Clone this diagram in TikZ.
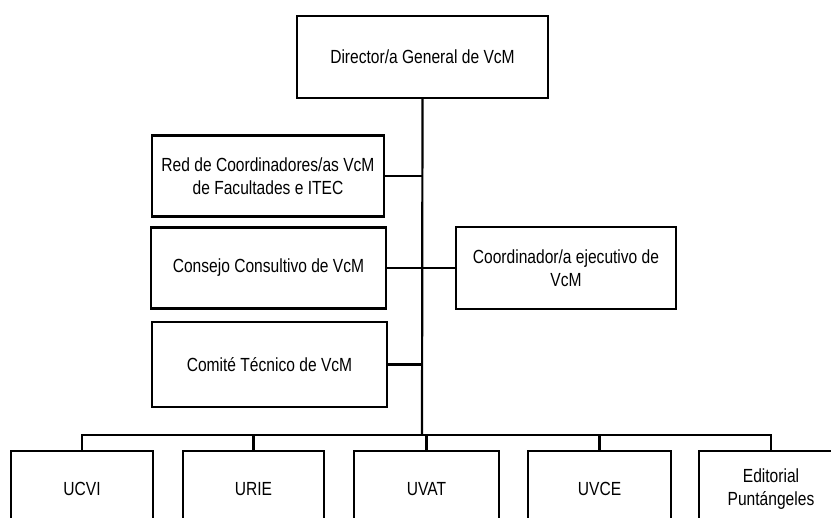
\documentclass[tikz,border=0pt]{standalone}
\usepackage{fontspec}
\setmainfont{Liberation Sans}[FakeStretch=0.82]
\begin{document}
\begin{tikzpicture}[line width=2.2pt,x=1pt,y=-1pt,
	box/.style={draw,align=center,inner sep=2pt,font=\fontsize{19}{23}\selectfont}]
\useasboundingbox (0,0) rectangle (831,518);
\clip (0,0) rectangle (831,518);
\node[box,minimum width=251,minimum height=82] (D) at (422.5,57) {Director/a General de VcM};
\node[box,minimum width=232,minimum height=81] (R) at (268,176) {Red de Coordinadores/as VcM\\de Facultades e ITEC};
\node[box,minimum width=235,minimum height=81] (C) at (268.5,268) {Consejo Consultivo de VcM};
\node[box,minimum width=220,minimum height=82] (E) at (566,268) {Coordinador/a ejecutivo de\\VcM};
\node[box,minimum width=235,minimum height=85] (T) at (269.5,364.5) {Comité Técnico de VcM};
\coordinate (bus) at (422,435);
\foreach \n/\x/\w/\t in {U1/82/142/UCVI, U2/253.5/141/URIE, U3/426.5/145/UVAT,
	U4/599.5/143/UVCE, U5/771/144/{Editorial\\Puntángeles}} {
	\node[box,minimum width=\w,minimum height=76] (\n) at (\x,489) {\t};
}
\draw (D.south) -- (bus);
\draw (R.east) -- (R.east -| bus);
\draw (C.east) -- (E.west);
\draw (T.east) -- (T.east -| bus);
\draw (U1.north) -- (U1.north |- bus) -- (U5.north |- bus) -- (U5.north);
\foreach \n in {U2,U3,U4} {
	\draw (\n.north) -- (\n.north |- bus);
}
\end{tikzpicture}
\end{document}
